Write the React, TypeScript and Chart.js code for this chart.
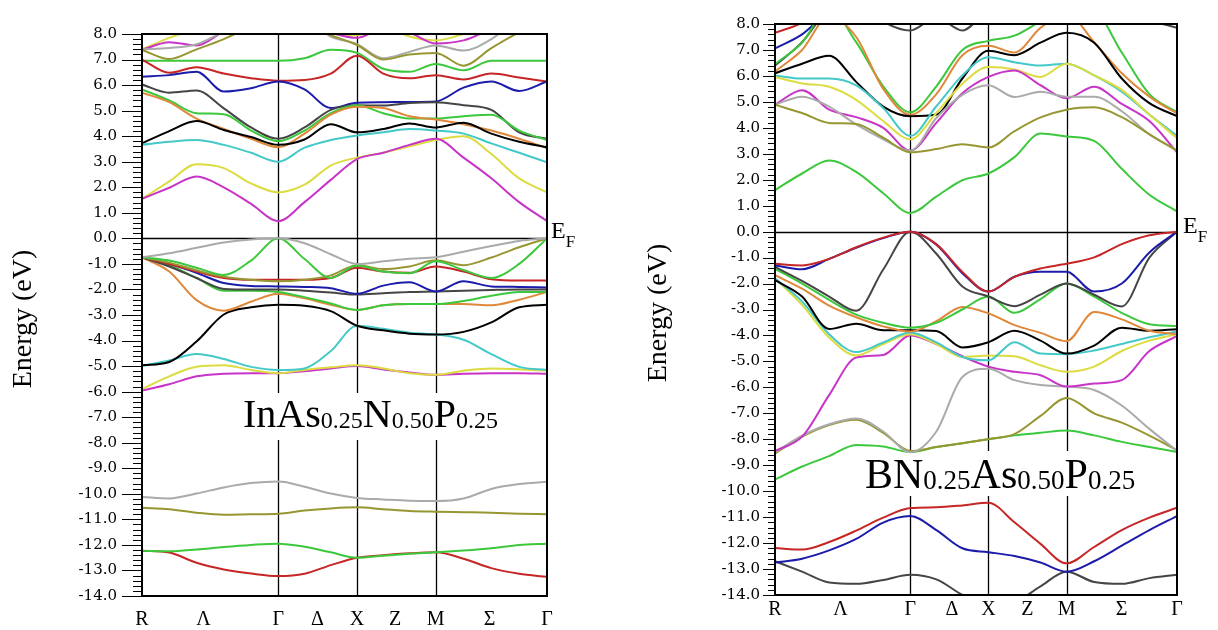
import React, { useEffect, useRef } from "react";
import { Chart, registerables } from "chart.js";

Chart.register(...registerables);

// ---------- k-path (R - Λ - Γ - Δ - X - Z - M - Σ - Γ), simple-cubic path lengths ----------
const K_GRID = [0, 0.3464, 0.6928, 1.0392, 1.3856, 1.7321, 2.0654, 2.3987, 2.7321, 3.0654, 3.3987, 3.7321, 4.0856, 4.4392, 4.7927, 5.1463];
const K_MAX = 5.1463;
const K_SYM_LINES = [1.7321, 2.7321, 3.7321];
const X_LABELS = ["R", "Λ", "Γ", "Δ", "X", "Z", "M", "Σ", "Γ"];
const X_LABEL_POS_L = [0, 0.78, 1.7321, 2.23, 2.7321, 3.215, 3.7321, 4.416, 5.1463];
const X_LABEL_POS_R = [0, 0.838, 1.7321, 2.266, 2.7321, 3.232, 3.7321, 4.436, 5.1463];
const Y_TICKS = [8, 7, 6, 5, 4, 3, 2, 1, 0, -1, -2, -3, -4, -5, -6, -7, -8, -9, -10, -11, -12, -13, -14];

const COL = {
  black: "#000000",
  dgray: "#454545",
  red: "#c62626",
  blue: "#1c1caa",
  green: "#3cc83c",
  orange: "#e0883a",
  cyan: "#44c8c8",
  yellow: "#dcdc40",
  magenta: "#c834c8",
  gray: "#aaaaaa",
  olive: "#979732",
};

// ---------- Left panel: InAs0.25N0.50P0.25 (energies in eV at K_GRID) ----------
const L_C_MAGENTA = [1.55, 1.98, 2.42, 2.0, 1.35, 0.68, 1.42, 2.29, 3.1, 3.35, 3.66, 3.9, 3.16, 2.35, 1.42, 0.68];
const L_C_YELLOW = [1.55, 2.23, 2.9, 2.75, 2.15, 1.8, 2.1, 2.85, 3.16, 3.35, 3.6, 3.85, 4.0, 3.3, 2.35, 1.8];
const L_C_CYAN = [3.66, 3.78, 3.85, 3.66, 3.35, 3.0, 3.55, 3.85, 4.03, 4.15, 4.28, 4.22, 4.1, 3.72, 3.35, 2.98];
const L_C_BLACK = [3.72, 4.2, 4.59, 4.24, 3.97, 3.66, 3.87, 4.47, 4.15, 4.28, 4.5, 4.34, 4.53, 4.1, 3.78, 3.57];
const L_C_ORANGE = [5.7, 5.33, 4.69, 4.28, 3.9, 3.57, 4.1, 4.84, 5.15, 5.1, 4.78, 4.65, 4.47, 4.22, 3.9, 3.53];
const L_C_GREEN = [5.83, 5.4, 4.9, 4.86, 4.22, 3.8, 4.22, 4.9, 5.21, 4.9, 4.69, 4.69, 4.78, 4.84, 4.22, 3.85];
const L_C_DGRAY = [6.02, 5.7, 5.79, 5.09, 4.34, 3.9, 4.34, 5.03, 5.21, 5.2, 5.3, 5.33, 5.21, 5.03, 4.15, 3.9];
const L_C_BLUE = [6.33, 6.39, 6.52, 5.75, 5.88, 6.14, 5.83, 5.1, 5.31, 5.33, 5.34, 5.36, 5.9, 6.14, 5.77, 6.14];
const L_C_RED = [7.0, 6.48, 6.7, 6.45, 6.27, 6.17, 6.2, 6.45, 7.15, 6.45, 6.27, 6.39, 6.22, 6.45, 6.3, 6.14];
const L_C_GREEN2 = [6.95, 6.95, 6.95, 6.95, 6.95, 6.95, 7.05, 7.38, 7.26, 6.64, 6.52, 6.83, 6.58, 6.95, 6.95, 6.95];
const L_C_OLIVE = [7.38, 7.02, 7.4, 7.8, 8.3, 8.6, 8.4, 7.95, 7.57, 7.0, 7.2, 7.26, 6.76, 7.45, 8.07, 8.6];
const L_C_GRAY = [7.4, 7.45, 7.6, 8.1, 8.6, 8.8, 8.6, 7.9, 7.6, 7.05, 7.3, 7.55, 7.35, 7.8, 8.6, 8.8];
const L_C_MAGENTA2 = [7.38, 7.68, 7.55, 8.1, 8.5, 8.7, 8.4, 8.05, 7.85, 8.2, 8.05, 7.63, 7.75, 8.2, 8.6, 8.7];
const L_C_YELLOW2 = [7.4, 7.85, 8.2, 8.5, 8.8, 9.0, 8.7, 8.1, 7.95, 8.3, 7.9, 7.75, 8.0, 8.4, 8.8, 9.0];

const L_V_GRAY = [-0.74, -0.58, -0.37, -0.16, -0.04, 0.0, -0.19, -0.62, -1.0, -0.9, -0.8, -0.74, -0.52, -0.3, -0.1, 0.0];
const L_V_GREEN = [-0.74, -0.87, -1.15, -1.43, -0.87, 0.0, -0.81, -1.55, -1.06, -1.3, -1.37, -0.9, -1.24, -1.55, -1.0, 0.0];
const L_V_OLIVE = [-0.74, -0.95, -1.25, -1.5, -1.62, -1.68, -1.62, -1.45, -1.05, -1.2, -1.1, -0.86, -1.05, -0.75, -0.35, 0.0];
const L_V_RED = [-0.74, -1.0, -1.3, -1.55, -1.62, -1.62, -1.62, -1.55, -1.15, -1.3, -1.35, -1.1, -1.3, -1.6, -1.65, -1.65];
const L_V_BLUE = [-0.74, -1.0, -1.35, -1.75, -1.86, -1.88, -1.9, -1.95, -2.17, -1.85, -1.72, -2.08, -1.68, -1.88, -1.9, -1.92];
const L_V_DGRAY = [-0.74, -1.1, -1.55, -1.98, -2.0, -2.0, -2.05, -2.12, -2.2, -2.15, -2.1, -2.08, -2.05, -2.02, -2.0, -2.0];
const L_V_GREEN2 = [-0.74, -1.05, -1.55, -2.05, -2.05, -2.1, -2.3, -2.55, -2.8, -2.62, -2.57, -2.57, -2.45, -2.25, -2.1, -2.1];
const L_V_ORANGE = [-0.74, -1.3, -2.42, -2.83, -2.48, -2.17, -2.35, -2.6, -2.8, -2.62, -2.57, -2.57, -2.57, -2.62, -2.4, -2.1];
const L_V_BLACK = [-4.97, -4.84, -4.04, -2.98, -2.7, -2.6, -2.64, -2.85, -3.42, -3.6, -3.73, -3.76, -3.66, -3.29, -2.7, -2.6];
const L_V_CYAN = [-5.0, -4.78, -4.53, -4.72, -5.03, -5.15, -5.09, -4.41, -3.42, -3.54, -3.69, -3.76, -3.97, -4.53, -5.03, -5.15];
const L_V_YELLOW = [-5.9, -5.4, -5.03, -4.97, -5.15, -5.28, -5.15, -5.05, -4.97, -5.09, -5.28, -5.34, -5.18, -5.09, -5.12, -5.18];
const L_V_MAGENTA = [-5.96, -5.71, -5.4, -5.3, -5.28, -5.28, -5.2, -5.09, -5.0, -5.13, -5.25, -5.34, -5.3, -5.28, -5.28, -5.3];

const L_D_GRAY = [-10.12, -10.18, -9.99, -9.75, -9.58, -9.52, -9.72, -9.99, -10.16, -10.22, -10.27, -10.28, -10.18, -9.81, -9.62, -9.53];
const L_D_OLIVE = [-10.55, -10.6, -10.74, -10.82, -10.8, -10.78, -10.65, -10.57, -10.53, -10.6, -10.67, -10.7, -10.72, -10.74, -10.78, -10.8];
const L_D_GREEN = [-12.23, -12.25, -12.18, -12.08, -12.0, -11.95, -12.07, -12.29, -12.5, -12.42, -12.35, -12.29, -12.22, -12.13, -12.0, -11.95];
const L_D_RED = [-12.23, -12.3, -12.7, -12.96, -13.12, -13.22, -13.13, -12.79, -12.5, -12.4, -12.33, -12.29, -12.54, -12.91, -13.13, -13.25];

// ---------- Right panel: BN0.25As0.50P0.25 ----------
const R_C_GREEN = [1.6, 2.24, 2.74, 2.3, 1.48, 0.72, 1.35, 1.98, 2.24, 2.87, 3.78, 3.67, 3.5, 2.42, 1.42, 0.78];
const R_C_OLIVE = [4.89, 4.57, 4.19, 4.15, 3.62, 3.06, 3.18, 3.37, 3.24, 3.87, 4.4, 4.7, 4.79, 4.41, 3.75, 3.12];
const R_C_GRAY = [4.89, 5.2, 4.82, 4.13, 3.56, 3.12, 4.38, 5.27, 5.64, 5.19, 5.39, 5.2, 5.2, 4.64, 3.75, 3.12];
const R_C_MAGENTA = [4.89, 5.45, 4.7, 4.41, 4.0, 3.12, 4.19, 5.33, 5.96, 6.21, 5.64, 5.14, 5.58, 4.92, 4.26, 3.06];
const R_C_YELLOW = [5.96, 5.71, 5.58, 5.08, 4.26, 3.56, 4.57, 5.7, 6.34, 6.25, 5.96, 6.47, 6.02, 5.46, 4.51, 3.6];
const R_C_CYAN = [6.02, 5.9, 5.9, 5.64, 4.76, 3.69, 4.83, 6.02, 6.72, 6.53, 6.4, 6.47, 6.02, 5.39, 4.51, 3.69];
const R_C_BLACK = [6.1, 6.47, 6.78, 5.77, 4.82, 4.45, 4.51, 5.9, 6.97, 6.8, 7.28, 7.66, 7.28, 5.9, 4.95, 4.45];
const R_C_ORANGE = [6.17, 7.0, 8.3, 7.5, 5.5, 4.5, 5.3, 6.8, 7.16, 6.9, 7.85, 8.4, 7.3, 6.1, 5.2, 4.55];
const R_C_GREEN2 = [6.45, 7.28, 8.6, 7.3, 5.6, 4.6, 5.6, 7.0, 7.35, 7.55, 8.1, 8.6, 8.5, 6.9, 5.3, 4.6];
const R_C_DGRAY = [6.4, 7.3, 8.6, 9.0, 8.1, 7.75, 8.25, 7.75, 8.6, 9.0, 9.0, 9.0, 9.0, 9.0, 8.2, 7.85];
const R_C_BLUE = [7.06, 7.6, 8.5, 9.0, 9.0, 9.0, 9.0, 9.0, 9.0, 9.0, 9.0, 9.0, 9.0, 9.0, 9.0, 9.0];
const R_C_RED = [7.66, 8.05, 8.8, 9.0, 9.0, 9.0, 9.0, 9.0, 9.0, 9.0, 9.0, 9.0, 9.0, 9.0, 9.0, 9.0];

const R_V_RED = [-1.24, -1.3, -1.05, -0.6, -0.23, 0.0, -0.48, -1.55, -2.31, -1.74, -1.42, -1.24, -0.99, -0.48, -0.14, 0.0];
const R_V_BLUE = [-1.3, -1.45, -1.05, -0.62, -0.25, 0.0, -0.5, -1.6, -2.31, -1.74, -1.55, -1.55, -2.31, -2.0, -0.8, 0.0];
const R_V_DGRAY = [-1.36, -1.9, -2.5, -3.05, -1.46, 0.0, -0.85, -2.11, -2.5, -2.87, -2.43, -2.0, -2.43, -2.88, -1.0, 0.0];
const R_V_GREEN = [-1.43, -2.0, -2.63, -3.2, -3.51, -3.7, -3.51, -3.0, -2.5, -3.13, -2.6, -2.0, -2.5, -3.13, -3.57, -3.64];
const R_V_ORANGE = [-1.68, -2.2, -2.85, -3.3, -3.65, -3.85, -3.45, -2.9, -3.15, -3.6, -3.9, -4.22, -3.1, -3.38, -3.82, -3.95];
const R_V_BLACK = [-1.87, -2.5, -3.75, -3.55, -3.8, -3.8, -3.83, -4.46, -4.26, -3.82, -4.2, -4.7, -4.39, -3.7, -3.82, -3.76];
const R_V_CYAN = [-1.8, -2.69, -3.95, -4.64, -4.27, -3.89, -4.27, -4.83, -4.96, -4.26, -4.7, -4.72, -4.58, -4.33, -4.07, -3.85];
const R_V_YELLOW = [-1.8, -2.82, -4.08, -4.77, -4.33, -3.95, -4.33, -4.83, -4.77, -4.8, -5.15, -5.4, -5.2, -4.6, -4.2, -3.95];
const R_V_MAGENTA = [-8.45, -7.9, -6.3, -4.85, -4.75, -4.0, -4.33, -4.8, -5.2, -5.4, -5.53, -5.97, -5.85, -5.72, -4.6, -4.02];
const R_V_GRAY = [-8.5, -7.86, -7.42, -7.2, -7.7, -8.5, -7.7, -5.6, -5.28, -5.72, -5.91, -5.97, -6.1, -6.7, -7.6, -8.45];
const R_V_OLIVE = [-8.55, -7.9, -7.45, -7.25, -7.75, -8.45, -8.3, -8.15, -7.99, -7.8, -7.1, -6.41, -7.0, -7.36, -7.86, -8.42];
const R_V_GREEN2 = [-9.55, -9.05, -8.65, -8.22, -8.28, -8.49, -8.3, -8.15, -8.0, -7.85, -7.75, -7.66, -7.85, -8.1, -8.3, -8.49];

const R_D_RED = [-12.19, -12.25, -11.96, -11.52, -11.02, -10.65, -10.62, -10.55, -10.45, -11.2, -12.03, -12.78, -12.15, -11.5, -11.02, -10.64];
const R_D_BLUE = [-12.75, -12.6, -12.28, -11.84, -11.21, -10.96, -11.5, -12.2, -12.35, -12.5, -12.75, -13.1, -12.7, -12.1, -11.5, -10.96];
const R_D_DGRAY = [-12.7, -13.1, -13.52, -13.57, -13.42, -13.22, -13.4, -14.0, -14.5, -14.3, -13.67, -13.1, -13.5, -13.57, -13.35, -13.22];

type Band = { values: number[]; color: string };

const LEFT_BANDS: Band[] = [
  { values: L_C_MAGENTA, color: COL.magenta },
  { values: L_C_YELLOW, color: COL.yellow },
  { values: L_C_CYAN, color: COL.cyan },
  { values: L_C_BLACK, color: COL.black },
  { values: L_C_ORANGE, color: COL.orange },
  { values: L_C_GREEN, color: COL.green },
  { values: L_C_DGRAY, color: COL.dgray },
  { values: L_C_BLUE, color: COL.blue },
  { values: L_C_RED, color: COL.red },
  { values: L_C_GREEN2, color: COL.green },
  { values: L_C_OLIVE, color: COL.olive },
  { values: L_C_GRAY, color: COL.gray },
  { values: L_C_MAGENTA2, color: COL.magenta },
  { values: L_C_YELLOW2, color: COL.yellow },
  { values: L_V_GRAY, color: COL.gray },
  { values: L_V_GREEN, color: COL.green },
  { values: L_V_OLIVE, color: COL.olive },
  { values: L_V_RED, color: COL.red },
  { values: L_V_BLUE, color: COL.blue },
  { values: L_V_DGRAY, color: COL.dgray },
  { values: L_V_GREEN2, color: COL.green },
  { values: L_V_ORANGE, color: COL.orange },
  { values: L_V_BLACK, color: COL.black },
  { values: L_V_CYAN, color: COL.cyan },
  { values: L_V_YELLOW, color: COL.yellow },
  { values: L_V_MAGENTA, color: COL.magenta },
  { values: L_D_GRAY, color: COL.gray },
  { values: L_D_OLIVE, color: COL.olive },
  { values: L_D_GREEN, color: COL.green },
  { values: L_D_RED, color: COL.red },
];

const RIGHT_BANDS: Band[] = [
  { values: R_C_GREEN, color: COL.green },
  { values: R_C_OLIVE, color: COL.olive },
  { values: R_C_GRAY, color: COL.gray },
  { values: R_C_MAGENTA, color: COL.magenta },
  { values: R_C_YELLOW, color: COL.yellow },
  { values: R_C_CYAN, color: COL.cyan },
  { values: R_C_BLACK, color: COL.black },
  { values: R_C_ORANGE, color: COL.orange },
  { values: R_C_GREEN2, color: COL.green },
  { values: R_C_DGRAY, color: COL.dgray },
  { values: R_C_BLUE, color: COL.blue },
  { values: R_C_RED, color: COL.red },
  { values: R_V_RED, color: COL.red },
  { values: R_V_BLUE, color: COL.blue },
  { values: R_V_DGRAY, color: COL.dgray },
  { values: R_V_GREEN, color: COL.green },
  { values: R_V_ORANGE, color: COL.orange },
  { values: R_V_BLACK, color: COL.black },
  { values: R_V_CYAN, color: COL.cyan },
  { values: R_V_YELLOW, color: COL.yellow },
  { values: R_V_MAGENTA, color: COL.magenta },
  { values: R_V_GRAY, color: COL.gray },
  { values: R_V_OLIVE, color: COL.olive },
  { values: R_V_GREEN2, color: COL.green },
  { values: R_D_RED, color: COL.red },
  { values: R_D_BLUE, color: COL.blue },
  { values: R_D_DGRAY, color: COL.dgray },
];

type Panel = {
  left: number;
  width: number;
  area: { left: number; right: number; top: number; bottom: number };
  tickPad: number;
  majorLen: number;
  minorLen: number;
  labelBaseline: number;
  labelPos: number[];
  yTitle: { x: number; y: number };
  ef: { x: number; y: number };
  compound: { parts: [string, boolean][]; x: number; baseline: number; big: number; small: number; gapTop: number; gapBottom: number };
  bands: Band[];
};

const PANELS: Panel[] = [
  {
    left: 0,
    width: 609,
    area: { left: 142, right: 547, top: 15, bottom: 604 },
    tickPad: 25,
    majorLen: 20,
    minorLen: 9,
    labelBaseline: 625,
    labelPos: X_LABEL_POS_L,
    yTitle: { x: 24, y: 319 },
    ef: { x: 551, y: 238 },
    compound: {
      parts: [["InAs", true], ["0.25", false], ["N", true], ["0.50", false], ["P", true], ["0.25", false]],
      x: 243, baseline: 427, big: 40, small: 24, gapTop: 393, gapBottom: 440,
    },
    bands: LEFT_BANDS,
  },
  {
    left: 609,
    width: 609,
    area: { left: 166, right: 568, top: 14, bottom: 595 },
    tickPad: 15,
    majorLen: 12,
    minorLen: 7,
    labelBaseline: 615,
    labelPos: X_LABEL_POS_R,
    yTitle: { x: 50, y: 313 },
    ef: { x: 574, y: 233 },
    compound: {
      parts: [["BN", true], ["0.25", false], ["As", true], ["0.50", false], ["P", true], ["0.25", false]],
      x: 256, baseline: 488, big: 42, small: 27, gapTop: 451, gapBottom: 496,
    },
    bands: RIGHT_BANDS,
  },
];

const SERIF = '"Liberation Serif", "Times New Roman", serif';

function makeDecor(p: Panel) {
  return {
    id: "decor",
    beforeDatasetsDraw(chart: any) {
      const { ctx, chartArea: a, scales } = chart;
      const xs = scales.x;
      const ys = scales.y;
      ctx.save();
      ctx.strokeStyle = "#000";
      ctx.lineWidth = 1.3;
      K_SYM_LINES.forEach((k) => {
        const px = Math.round(xs.getPixelForValue(k)) + 0.5;
        ctx.beginPath();
        ctx.moveTo(px, a.top);
        ctx.lineTo(px, p.compound.gapTop);
        ctx.moveTo(px, p.compound.gapBottom);
        ctx.lineTo(px, a.bottom);
        ctx.stroke();
      });
      const y0 = Math.round(ys.getPixelForValue(0)) + 0.5;
      ctx.lineWidth = 1.5;
      ctx.beginPath();
      ctx.moveTo(a.left, y0);
      ctx.lineTo(a.right, y0);
      ctx.stroke();

      // compound label
      ctx.fillStyle = "#000";
      ctx.textAlign = "left";
      ctx.textBaseline = "alphabetic";
      let cx = p.compound.x;
      p.compound.parts.forEach(([txt, big]) => {
        ctx.font = `${big ? p.compound.big : p.compound.small}px ${SERIF}`;
        ctx.fillText(txt, cx, p.compound.baseline + (big ? 0 : 1));
        cx += ctx.measureText(txt).width;
      });
      ctx.restore();
    },
    afterDatasetsDraw(chart: any) {
      const { ctx, chartArea: a, scales } = chart;
      const xs = scales.x;
      const ys = scales.y;
      ctx.save();
      // frame
      ctx.strokeStyle = "#000";
      ctx.lineWidth = 2;
      ctx.strokeRect(a.left, a.top, a.right - a.left, a.bottom - a.top);
      // y ticks (major every 1.0, minor every 0.2)
      ctx.lineWidth = 1;
      for (let i = 0; i <= 110; i++) {
        const v = -14 + i * 0.2;
        const py = Math.round(ys.getPixelForValue(v)) + 0.5;
        const len = i % 5 === 0 ? p.majorLen : p.minorLen;
        ctx.beginPath();
        ctx.moveTo(a.left - len, py);
        ctx.lineTo(a.left, py);
        ctx.stroke();
      }
      // x labels
      ctx.fillStyle = "#000";
      ctx.font = `20px ${SERIF}`;
      ctx.textAlign = "center";
      ctx.textBaseline = "alphabetic";
      X_LABELS.forEach((lab, i) => {
        ctx.fillText(lab, xs.getPixelForValue(p.labelPos[i]), p.labelBaseline);
      });
      // E_F
      ctx.textAlign = "left";
      ctx.font = `24px ${SERIF}`;
      ctx.fillText("E", p.ef.x, p.ef.y);
      const wE = ctx.measureText("E").width;
      ctx.font = `17px ${SERIF}`;
      ctx.fillText("F", p.ef.x + wE, p.ef.y + 9);
      // y title
      ctx.translate(p.yTitle.x, p.yTitle.y);
      ctx.rotate(-Math.PI / 2);
      ctx.textAlign = "center";
      ctx.textBaseline = "middle";
      ctx.font = `28px ${SERIF}`;
      ctx.fillText("Energy (eV)", 0, 0);
      ctx.restore();
    },
  };
}

function BandPanel({ p }: { p: Panel }) {
  const ref = useRef<HTMLCanvasElement | null>(null);
  useEffect(() => {
    if (!ref.current) return;
    const datasets = p.bands.map((b) => ({
      data: K_GRID.map((k, i) => ({ x: k, y: b.values[i] })),
      borderColor: b.color,
      backgroundColor: b.color,
      borderWidth: 2,
      pointRadius: 0,
      fill: false,
      cubicInterpolationMode: "monotone" as const,
      borderJoinStyle: "round" as const,
      borderCapStyle: "round" as const,
    }));
    const chart = new Chart(ref.current, {
      type: "line",
      data: { datasets },
      options: {
        animation: false,
        responsive: false,
        maintainAspectRatio: false,
        events: [],
        layout: { padding: { top: p.area.top, right: p.width - p.area.right, left: 0, bottom: 0 } },
        plugins: { legend: { display: false }, tooltip: { enabled: false }, title: { display: false } },
        scales: {
          x: {
            type: "linear",
            min: 0,
            max: K_MAX,
            grid: { display: false, drawTicks: false },
            border: { display: false },
            ticks: { display: false },
            afterFit: (s: any) => {
              s.height = 630 - p.area.bottom;
            },
          },
          y: {
            type: "linear",
            min: -14,
            max: 8,
            afterBuildTicks: (s: any) => {
              s.ticks = Y_TICKS.map((v) => ({ value: v }));
            },
            grid: { display: false, drawTicks: false },
            border: { display: false },
            ticks: {
              color: "#000",
              padding: p.tickPad,
              font: { family: "DejaVu Serif", size: 15 },
              callback: (v: any) => Number(v).toFixed(1),
            },
            afterFit: (s: any) => {
              s.width = p.area.left;
            },
          },
        },
      },
      plugins: [makeDecor(p)],
    });
    return () => chart.destroy();
  }, [p]);
  return (
    <canvas
      ref={ref}
      width={p.width}
      height={630}
      style={{ position: "absolute", left: p.left, top: 0, width: p.width, height: 630, display: "block" }}
    />
  );
}

export default function App() {
  return (
    <div style={{ position: "absolute", left: 0, top: 0, width: 1218, height: 630, background: "#fff", overflow: "hidden" }}>
      {PANELS.map((p, i) => (
        <BandPanel key={i} p={p} />
      ))}
    </div>
  );
}
